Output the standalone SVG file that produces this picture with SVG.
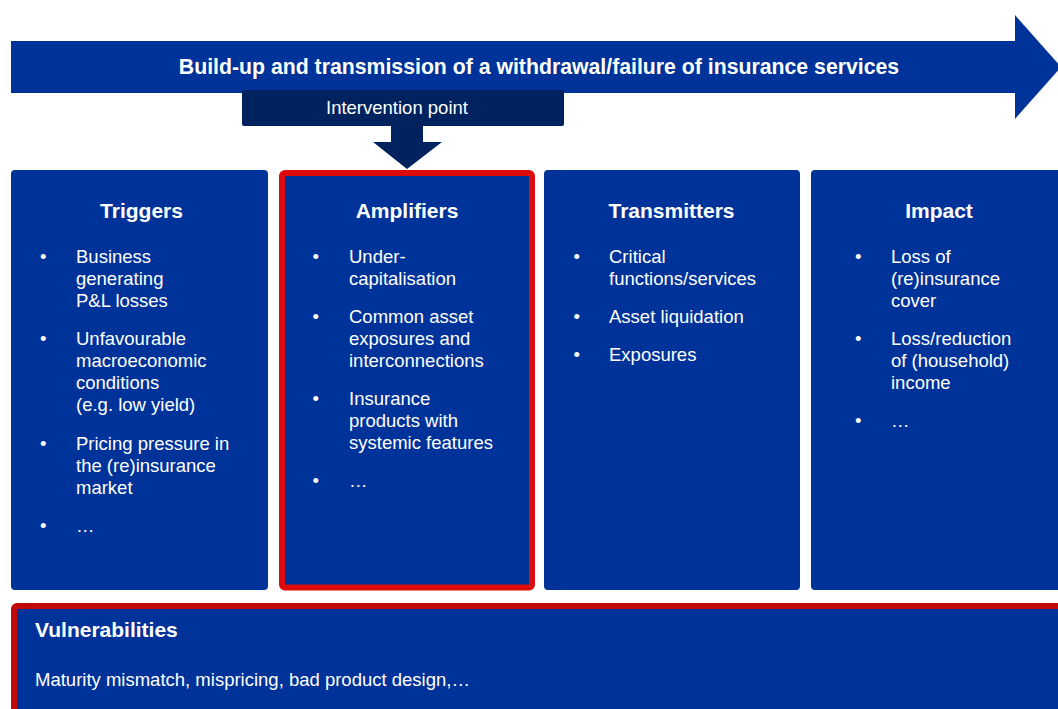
<svg xmlns="http://www.w3.org/2000/svg" width="1058" height="709" viewBox="0 0 1058 709">
<style>
.blue{fill:#003399}
.navy{fill:#00235F}
.t{font-family:"Liberation Sans",Arial,sans-serif;fill:#FFFFFF}
.h{font-size:21px;font-weight:bold}
.b{font-size:18.5px}
.c{text-anchor:middle}
</style>
<rect width="1058" height="709" fill="#FFFFFF"/>
<g id="process-arrow">
<polygon class="blue" points="11,41 1015,41 1015,15 1061,67 1015,119 1015,93 11,93"/>
<text class="t c" style="font-size:21.25px;font-weight:bold" x="539" y="74">Build-up and transmission of a withdrawal/failure of insurance services</text>
</g>
<g id="intervention-point">
<rect class="navy" x="242" y="90" width="322" height="36" rx="2"/>
<text class="t b" x="326" y="114">Intervention point</text>
</g>
<g id="connectors">
<polygon class="navy" points="391,125 423,125 423,142 442,142 407,169 373,142 391,142"/>
</g>
<g id="triggers">
<rect class="blue" x="11" y="170" width="257" height="420" rx="4"/>
<text class="t h c" x="141.5" y="218">Triggers</text>
<g class="t b">
<text x="40" y="263">•</text>
<text x="76" y="263">Business</text>
<text x="76" y="285">generating</text>
<text x="76" y="307">P&amp;L losses</text>
<text x="40" y="345">•</text>
<text x="76" y="345">Unfavourable</text>
<text x="76" y="367">macroeconomic</text>
<text x="76" y="389">conditions</text>
<text x="76" y="411">(e.g. low yield)</text>
<text x="40" y="450">•</text>
<text x="76" y="450">Pricing pressure in</text>
<text x="76" y="472">the (re)insurance</text>
<text x="76" y="494">market</text>
<text x="40" y="532">•</text>
<text x="76" y="532">…</text>
</g>
</g>
<g id="amplifiers">
<rect class="blue" x="282" y="173" width="250" height="414.5" rx="3" stroke="#DD0B0B" stroke-width="6"/>
<text class="t h c" x="407" y="218">Amplifiers</text>
<g class="t b">
<text x="312.5" y="263">•</text>
<text x="349" y="263">Under-</text>
<text x="349" y="285">capitalisation</text>
<text x="312.5" y="323">•</text>
<text x="349" y="323">Common asset</text>
<text x="349" y="345">exposures and</text>
<text x="349" y="367">interconnections</text>
<text x="312.5" y="405">•</text>
<text x="349" y="405">Insurance</text>
<text x="349" y="427">products with</text>
<text x="349" y="449">systemic features</text>
<text x="312.5" y="487">•</text>
<text x="349" y="487">…</text>
</g>
</g>
<g id="transmitters">
<rect class="blue" x="544" y="170" width="256" height="420" rx="4"/>
<text class="t h c" x="671.5" y="218">Transmitters</text>
<g class="t b">
<text x="573.5" y="263">•</text>
<text x="609" y="263">Critical</text>
<text x="609" y="285">functions/services</text>
<text x="573.5" y="323">•</text>
<text x="609" y="323">Asset liquidation</text>
<text x="573.5" y="361">•</text>
<text x="609" y="361">Exposures</text>
</g>
</g>
<g id="impact">
<rect class="blue" x="811" y="170" width="256" height="420" rx="4"/>
<text class="t h c" x="939" y="218">Impact</text>
<g class="t b">
<text x="855" y="263">•</text>
<text x="891" y="263">Loss of</text>
<text x="891" y="285">(re)insurance</text>
<text x="891" y="307">cover</text>
<text x="855" y="345">•</text>
<text x="891" y="345">Loss/reduction</text>
<text x="891" y="367">of (household)</text>
<text x="891" y="389">income</text>
<text x="855" y="427">•</text>
<text x="891" y="427">…</text>
</g>
</g>
<g id="vulnerabilities">
<rect class="blue" x="14" y="606" width="1100" height="200" rx="3" stroke="#C00A0A" stroke-width="6"/>
<text class="t h" x="35" y="637">Vulnerabilities</text>
<text class="t b" x="35" y="686">Maturity mismatch, mispricing, bad product design,…</text>
</g>
</svg>
